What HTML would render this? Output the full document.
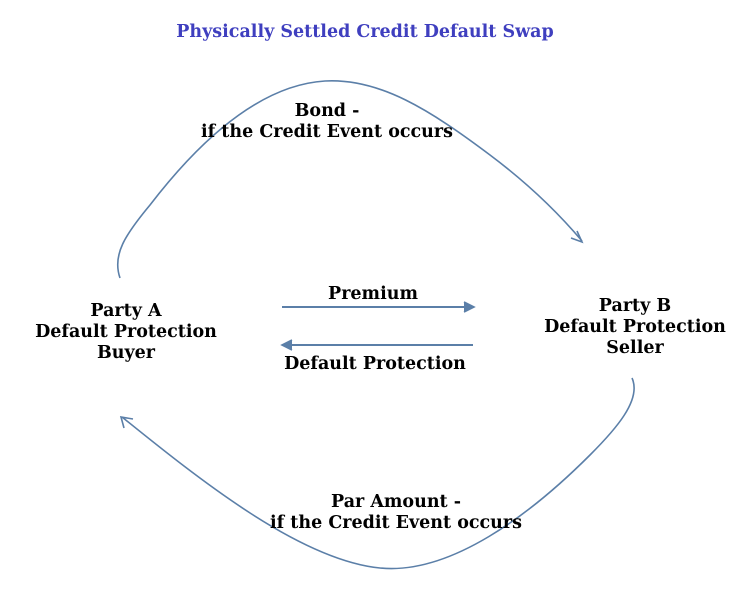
<!DOCTYPE html>
<html><head><style>
html,body{margin:0;padding:0;background:#fff;}
body{width:753px;height:605px;position:relative;overflow:hidden;font-family:"DejaVu Serif","Liberation Serif",serif;font-weight:bold;}
.t{position:absolute;text-align:center;white-space:nowrap;font-size:17.5px;line-height:21px;color:#000;transform:translateX(-50%);}
</style></head><body>
<svg width="753" height="605" style="position:absolute;left:0;top:0">
<g fill="none" stroke="#5b7fa8" stroke-width="1.6">
<path d="M120,278 C112,255 125,235 150,205 C200,140 260,85 325,81 C380,78 430,110 490,155 C530,185 560,215 582,241"/>
<path d="M571,238 L582,242 L577,231"/>
<path d="M632,378 C642,400 615,430 590,455 C530,515 450,575 380,568 C300,560 200,480 122,417"/>
<path d="M124,428 L121,417 L133,419"/>
<line x1="282" y1="307" x2="472" y2="307" stroke-width="2"/>
<path d="M464,302 L474,307 L464,312" fill="#5b7fa8"/>
<line x1="284" y1="345" x2="473" y2="345" stroke-width="2"/>
<path d="M292,340 L282,345 L292,350" fill="#5b7fa8"/>
</g>
</svg>
<div class="t" style="left:365px;top:22px;color:#3f3fbf;font-size:17.5px;">Physically Settled Credit Default Swap</div>
<div class="t" style="left:327px;top:101px;">Bond -<br>if the Credit Event occurs</div>
<div class="t" style="left:373px;top:284px;">Premium</div>
<div class="t" style="left:375px;top:354px;">Default Protection</div>
<div class="t" style="left:126px;top:301px;">Party A<br>Default Protection<br>Buyer</div>
<div class="t" style="left:635px;top:296px;">Party B<br>Default Protection<br>Seller</div>
<div class="t" style="left:396px;top:492px;">Par Amount -<br>if the Credit Event occurs</div>
</body></html>
